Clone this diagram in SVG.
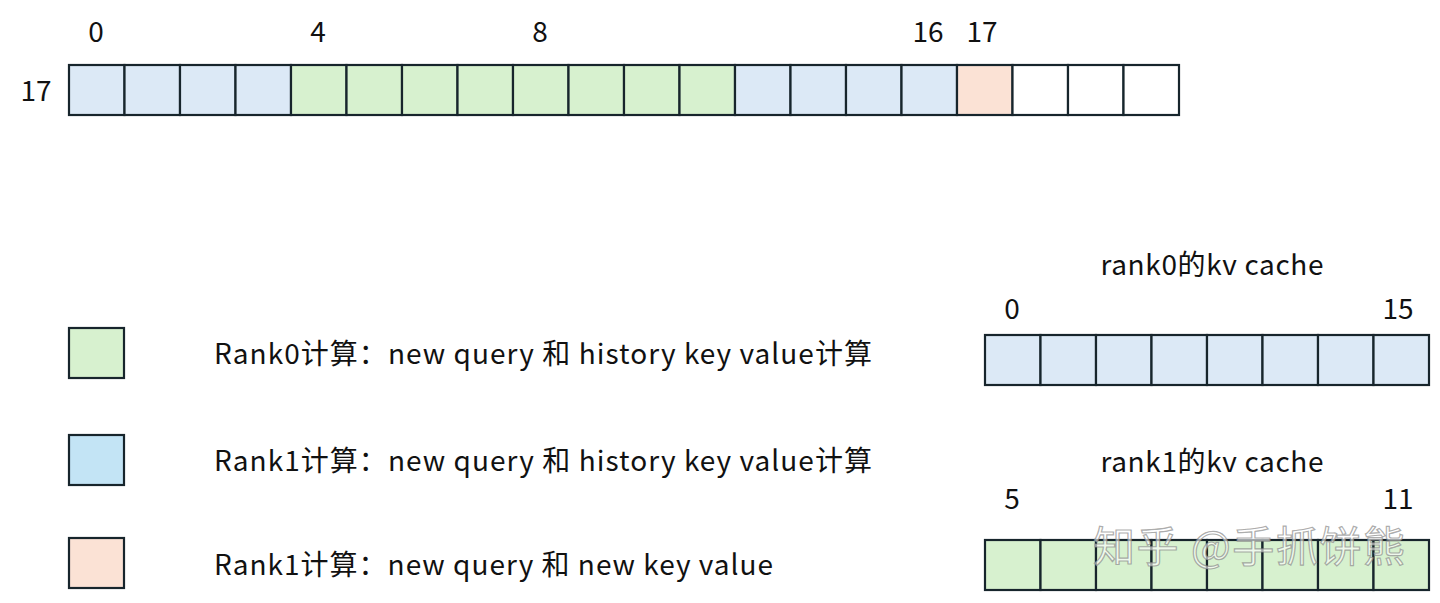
<svg xmlns="http://www.w3.org/2000/svg" width="1440" height="603" viewBox="0 0 1440 603">
<style>
text{font-family:"Noto Sans CJK SC","Noto Sans",sans-serif;font-size:28px;fill:#111}
.c{stroke:#17252c;stroke-width:2.2}
.b{fill:#dce9f6}
.g{fill:#d7f1cf}
.p{fill:#fbe2d5}
.w{fill:#ffffff}
.lb{fill:#c3e4f5}
.m{text-anchor:middle}
.wm{font-size:42px;fill:#ffffff;fill-opacity:0.6;stroke:#888;stroke-width:1.2;stroke-opacity:0.7}
</style>
<g id="top-row">
<rect class="c b" x="69" y="65" width="55.5" height="50"/>
<rect class="c b" x="124.5" y="65" width="55.5" height="50"/>
<rect class="c b" x="180" y="65" width="55.5" height="50"/>
<rect class="c b" x="235.5" y="65" width="55.5" height="50"/>
<rect class="c g" x="291" y="65" width="55.5" height="50"/>
<rect class="c g" x="346.5" y="65" width="55.5" height="50"/>
<rect class="c g" x="402" y="65" width="55.5" height="50"/>
<rect class="c g" x="457.5" y="65" width="55.5" height="50"/>
<rect class="c g" x="513" y="65" width="55.5" height="50"/>
<rect class="c g" x="568.5" y="65" width="55.5" height="50"/>
<rect class="c g" x="624" y="65" width="55.5" height="50"/>
<rect class="c g" x="679.5" y="65" width="55.5" height="50"/>
<rect class="c b" x="735" y="65" width="55.5" height="50"/>
<rect class="c b" x="790.5" y="65" width="55.5" height="50"/>
<rect class="c b" x="846" y="65" width="55.5" height="50"/>
<rect class="c b" x="901.5" y="65" width="55.5" height="50"/>
<rect class="c p" x="957" y="65" width="55.5" height="50"/>
<rect class="c w" x="1012.5" y="65" width="55.5" height="50"/>
<rect class="c w" x="1068" y="65" width="55.5" height="50"/>
<rect class="c w" x="1123.5" y="65" width="55.5" height="50"/>
<text class="m" x="96" y="42">0</text>
<text class="m" x="318" y="42">4</text>
<text class="m" x="540" y="42">8</text>
<text class="m" x="928" y="42">16</text>
<text class="m" x="982" y="42">17</text>
<text class="m" x="36" y="101">17</text>
</g>
<g id="legend-rank0">
<rect class="c g" x="69" y="328" width="55" height="50"/>
<text x="214" y="364" textLength="658">Rank0计算：new query 和 history key value计算</text>
</g>
<g id="legend-rank1-history">
<rect class="c lb" x="69" y="435" width="55" height="50"/>
<text x="214" y="471" textLength="658">Rank1计算：new query 和 history key value计算</text>
</g>
<g id="legend-rank1-new">
<rect class="c p" x="69" y="538" width="55" height="50"/>
<text x="214" y="575" textLength="559">Rank1计算：new query 和 new key value</text>
</g>
<g id="rank0-cache">
<text class="m" x="1212" y="275" textLength="223">rank0的kv cache</text>
<text class="m" x="1012" y="319">0</text>
<text class="m" x="1398" y="319">15</text>
<rect class="c b" x="985" y="335" width="55.5" height="50"/>
<rect class="c b" x="1040.5" y="335" width="55.5" height="50"/>
<rect class="c b" x="1096" y="335" width="55.5" height="50"/>
<rect class="c b" x="1151.5" y="335" width="55.5" height="50"/>
<rect class="c b" x="1207" y="335" width="55.5" height="50"/>
<rect class="c b" x="1262.5" y="335" width="55.5" height="50"/>
<rect class="c b" x="1318" y="335" width="55.5" height="50"/>
<rect class="c b" x="1373.5" y="335" width="55.5" height="50"/>
</g>
<g id="rank1-cache">
<text class="m" x="1212" y="472" textLength="223">rank1的kv cache</text>
<text class="m" x="1012" y="509">5</text>
<text class="m" x="1398" y="509">11</text>
<rect class="c g" x="985" y="540" width="55.5" height="50"/>
<rect class="c g" x="1040.5" y="540" width="55.5" height="50"/>
<rect class="c g" x="1096" y="540" width="55.5" height="50"/>
<rect class="c g" x="1151.5" y="540" width="55.5" height="50"/>
<rect class="c g" x="1207" y="540" width="55.5" height="50"/>
<rect class="c g" x="1262.5" y="540" width="55.5" height="50"/>
<rect class="c g" x="1318" y="540" width="55.5" height="50"/>
<rect class="c g" x="1373.5" y="540" width="55.5" height="50"/>
</g>
<g id="watermark">
<text class="wm" x="1093" y="562" textLength="312">知乎 @手抓饼熊</text>
</g>
<g id="connectors"/>
</svg>
